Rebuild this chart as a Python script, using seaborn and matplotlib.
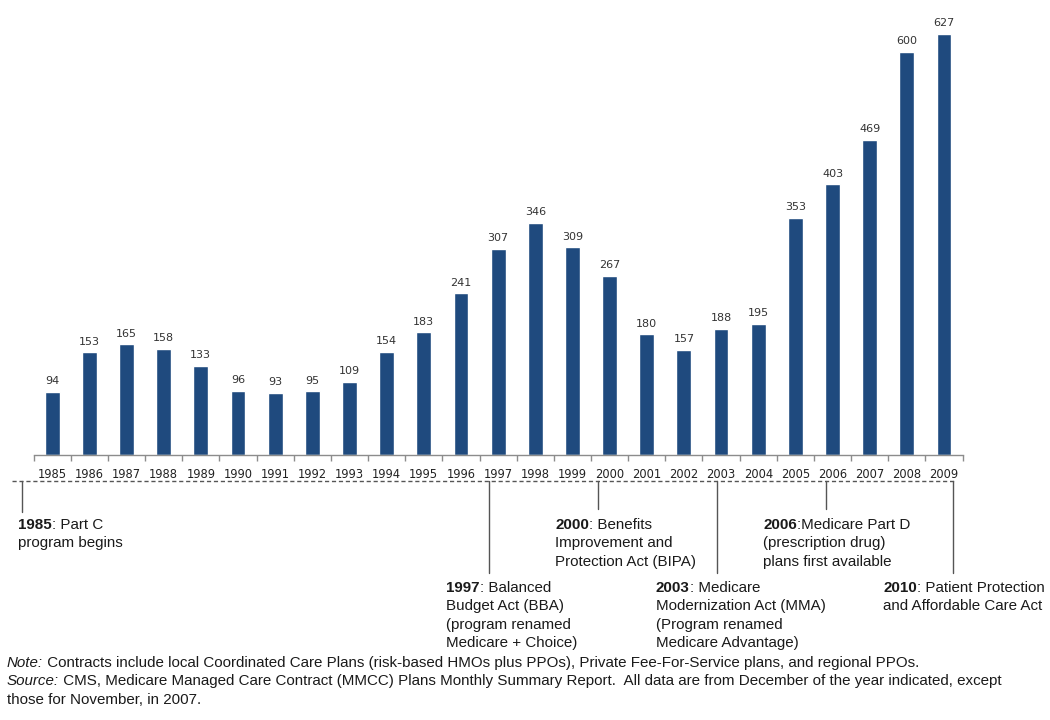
import matplotlib
matplotlib.use("Agg")
import matplotlib.pyplot as plt
import seaborn as sns
import pandas as pd
from matplotlib.lines import Line2D

# ---------------- data ----------------
years = [str(y) for y in range(1985, 2010)]
contracts = [94, 153, 165, 158, 133, 96, 93, 95, 109, 154, 183, 241, 307,
             346, 309, 267, 180, 157, 188, 195, 353, 403, 469, 600, 627]

# timeline annotations: (bold year, rest of first line, following lines)
milestones_top = [
    ("1985", ": Part C", ["program begins"]),
    ("2000", ": Benefits", ["Improvement and", "Protection Act (BIPA)"]),
    ("2006", ":Medicare Part D", ["(prescription drug)", "plans first available"]),
]
milestones_bottom = [
    ("1997", ": Balanced", ["Budget Act (BBA)", "(program renamed", "Medicare + Choice)"]),
    ("2003", ": Medicare", ["Modernization Act (MMA)", "(Program renamed", "Medicare Advantage)"]),
    ("2010", ": Patient Protection", ["and Affordable Care Act"]),
]
note_lines = [
    ("Note:", " Contracts include local Coordinated Care Plans (risk-based HMOs plus PPOs), Private Fee-For-Service plans, and regional PPOs."),
    ("Source:", " CMS, Medicare Managed Care Contract (MMCC) Plans Monthly Summary Report.  All data are from December of the year indicated, except"),
    ("", "those for November, in 2007."),
]

# ---------------- style ----------------
sns.set_theme(style="white")
plt.rcParams["font.family"] = ["DejaVu Sans"]
ARIAL = ["Liberation Sans", "Arimo", "DejaVu Sans"]
TXT = "#1a1a1a"
BAR = "#1F4A7E"
FS = 10.9

W, H = 1050, 720
fig = plt.figure(figsize=(W / 100, H / 100), dpi=100)


def fx(x):
    return x / W


def fy(y):
    return 1 - y / H


ax = fig.add_axes([fx(33.6), fy(455), (962.6 - 33.6) / W, 440 / H])
df = pd.DataFrame({"year": years, "contracts": contracts})
sns.barplot(data=df, x="year", y="contracts", color=BAR, width=0.40,
            saturation=1, ax=ax)
ax.bar_label(ax.containers[0], fontsize=8, padding=4, color="#333333")
ax.set_ylim(0, 655)
ax.set_xlim(-0.5, 24.5)
ax.set_xlabel("")
ax.set_ylabel("")
ax.set_yticks([])
for s in ["top", "right", "left"]:
    ax.spines[s].set_visible(False)
ax.spines["bottom"].set_color("#8c8c8c")
ax.spines["bottom"].set_linewidth(1.0)
ax.set_xticks([i + 0.5 for i in range(-1, 25)], minor=True)
ax.tick_params(axis="x", which="major", length=0, labelsize=8.3, pad=9,
               colors="#222222")
ax.tick_params(axis="x", which="minor", bottom=True, length=4,
               color="#8c8c8c", width=1, direction="out")

# ---------------- timeline lines ----------------
line_kw = dict(color="#555555", linewidth=1.0, transform=fig.transFigure)
fig.add_artist(Line2D([fx(12), fx(954)], [fy(481), fy(481)],
                      linestyle=(0, (3, 2)), **line_kw))
for x, y2 in [(22, 512), (598, 509), (826, 509),
              (489, 573), (717, 573), (953, 573)]:
    fig.add_artist(Line2D([fx(x), fx(x)], [fy(481), fy(y2)], **line_kw))


def block(x, y, bold, first, rest, pitch=18.3, size=FS, style="bold"):
    kw = dict(fontsize=size, family=ARIAL, color=TXT)
    if bold:
        if style == "bold":
            t = fig.text(fx(x), fy(y), bold, fontweight="bold", va="baseline",
                         ha="left", **kw)
        else:
            t = fig.text(fx(x), fy(y), bold, fontstyle="italic", va="baseline",
                         ha="left", **kw)
        ax.annotate(first, xy=(1, 0), xycoords=t, va="bottom", ha="left",
                    annotation_clip=False, **kw)
    else:
        fig.text(fx(x), fy(y), first, va="baseline", ha="left", **kw)
    for i, line in enumerate(rest):
        fig.text(fx(x), fy(y + pitch * (i + 1)), line, va="baseline",
                 ha="left", **kw)


for (b, f, r), x in zip(milestones_top, [18, 555, 763]):
    block(x, 529, b, f, r)
for (b, f, r), x in zip(milestones_bottom, [446, 656, 883]):
    block(x, 592, b, f, r)

for i, (b, f) in enumerate(note_lines):
    block(7, 667 + 18.3 * i, b, f, [], style="italic")

fig.savefig("out.png", dpi=100)
